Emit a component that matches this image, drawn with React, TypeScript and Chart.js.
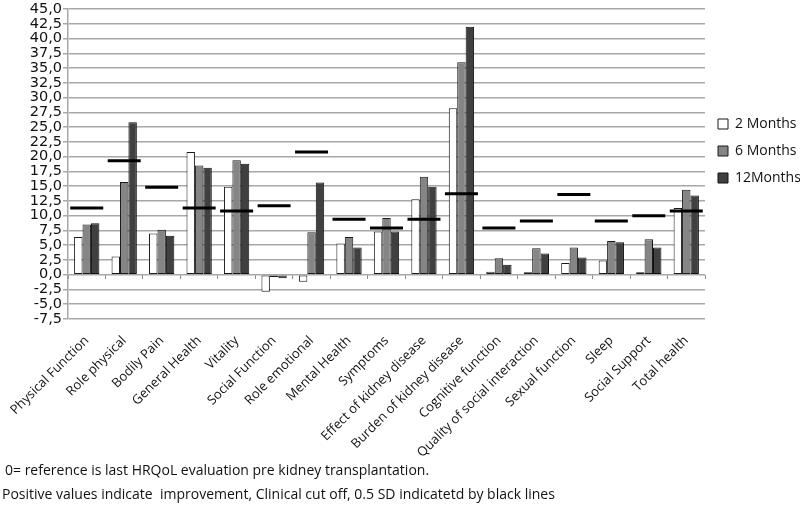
import React, { useEffect, useRef } from "react";
import { Chart, registerables } from "chart.js";

Chart.register(...registerables);

const categories = [
  "Physical Function",
  "Role physical",
  "Bodily Pain",
  "General Health",
  "Vitality",
  "Social Function",
  "Role emotional",
  "Mental Health",
  "Symptoms",
  "Effect of kidney disease",
  "Burden of kidney disease",
  "Cognitive function",
  "Quality of social interaction",
  "Sexual function",
  "Sleep",
  "Social Support",
  "Total health",
];

const seriesNames = ["2 Months", "6 Months", "12Months"];
const months2 = [6.4, 3.1, 7.0, 20.8, 14.9, -2.9, -1.2, 5.3, 7.3, 12.8, 28.2, 0.5, 0.4, 2.0, 2.4, 0.4, 11.3];
const months6 = [8.5, 15.7, 7.6, 18.5, 19.4, -0.4, 7.2, 6.4, 9.6, 16.6, 36.0, 2.8, 4.5, 4.6, 5.7, 6.0, 14.4];
const months12 = [8.7, 25.8, 6.6, 18.1, 18.8, -0.6, 15.6, 4.6, 7.3, 14.9, 42.0, 1.7, 3.6, 2.9, 5.5, 4.6, 13.4];
const cutoffs = [11.3, 19.3, 14.8, 11.3, 10.8, 11.7, 20.8, 9.4, 7.9, 9.4, 13.7, 7.9, 9.1, 13.6, 9.1, 10.0, 10.8];

const yMin = -7.5;
const yMax = 45;
const yStep = 2.5;

const footnotes = [
  "0= reference is last HRQoL evaluation pre kidney transplantation.",
  "Positive values indicate  improvement, Clinical cut off, 0.5 SD indicatetd by black lines",
];

const FONT = "'Open Sans', sans-serif";
const YFONT = "'DejaVu Sans', sans-serif";

export default function App() {
  const canvasRef = useRef<HTMLCanvasElement | null>(null);

  useEffect(() => {
    if (!canvasRef.current) return;
    const chart = new Chart(canvasRef.current, {
      type: "bar",
      data: {
        labels: categories,
        datasets: [
          {
            label: seriesNames[0],
            data: months2,
            backgroundColor: "#ffffff",
            borderColor: "#1a1a1a",
            borderWidth: 1,
            borderSkipped: false,
            order: 1,
          },
          {
            label: seriesNames[1],
            data: months6,
            backgroundColor: "#858585",
            borderColor: "#1a1a1a",
            borderWidth: 1,
            borderSkipped: false,
            order: 1,
          },
          {
            label: seriesNames[2],
            data: months12,
            backgroundColor: "#404040",
            borderColor: "#111111",
            borderWidth: 1,
            borderSkipped: false,
            order: 1,
          },
          {
            type: "line",
            label: "cutoff",
            data: cutoffs,
            showLine: false,
            pointStyle: "line",
            pointRadius: 16.5,
            pointHoverRadius: 16.5,
            pointBorderWidth: 3,
            pointBorderColor: "#000000",
            pointBackgroundColor: "#000000",
            borderColor: "#000000",
            order: -1,
          } as any,
        ],
      },
      options: {
        animation: false,
        responsive: false,
        maintainAspectRatio: false,
        layout: { autoPadding: false, padding: { top: 9, left: 0, right: 0, bottom: 0 } },
        datasets: {
          bar: { categoryPercentage: 0.675, barPercentage: 1.0 },
        },
        plugins: {
          tooltip: { enabled: false },
          title: { display: false },
          legend: {
            position: "right",
            align: "start",
            fullSize: false,
            maxWidth: 95,
            title: {
              display: true,
              text: "",
              font: { size: 10 },
              padding: { top: 0, bottom: 83 },
            },
            labels: {
              filter: (item: any) => item.datasetIndex < 3,
              boxWidth: 10,
              boxHeight: 10,
              padding: 13,
              color: "#111",
              font: { family: FONT, size: 14 },
            },
          },
        },
        scales: {
          x: {
            type: "category",
            offset: true,
            grid: { display: false, offset: true },
            border: { display: false },
            ticks: {
              minRotation: 45,
              maxRotation: 45,
              autoSkip: false,
              padding: 6,
              color: "#111",
              font: { family: FONT, size: 13 },
            },
            afterFit: (s: any) => {
              s.height = 190;
            },
          },
          x2: {
            type: "category",
            position: { y: 0 } as any,
            offset: true,
            grid: {
              offset: true,
              drawOnChartArea: false,
              drawTicks: true,
              tickLength: 4,
              color: "#8c8c8c",
              lineWidth: 1,
            },
            border: { display: false },
            ticks: { display: false },
            afterFit: (s: any) => {
              s.height = 0;
            },
          },
          y: {
            min: yMin,
            max: yMax,
            grid: {
              color: "#a8a8a8",
              lineWidth: 1.5,
              drawTicks: true,
              tickLength: 5,
            },
            border: { display: true, color: "#a8a8a8", width: 1.5 },
            ticks: {
              stepSize: yStep,
              autoSkip: false,
              padding: 1,
              color: "#111",
              font: { family: YFONT, size: 14.5 },
              callback: (v: any) => Number(v).toFixed(1).replace(".", ","),
            },
            afterFit: (s: any) => {
              s.width = 68;
              s.paddingTop = 0;
              s.paddingBottom = 0;
            },
          },
        },
      },
    });
    return () => chart.destroy();
  }, []);

  return (
    <div style={{ position: "absolute", left: 0, top: 0, width: 800, height: 509, background: "#fff" }}>
      <canvas ref={canvasRef} width={800} height={509} style={{ display: "block", width: 800, height: 509 }} />
      <div
        style={{
          position: "absolute",
          left: 5,
          top: 460,
          fontFamily: FONT,
          fontSize: 14,
          color: "#111",
          whiteSpace: "pre",
          lineHeight: "20px",
        }}
      >
        {footnotes[0]}
      </div>
      <div
        style={{
          position: "absolute",
          left: 2,
          top: 484,
          fontFamily: FONT,
          fontSize: 14,
          color: "#111",
          whiteSpace: "pre",
          lineHeight: "20px",
        }}
      >
        {footnotes[1]}
      </div>
    </div>
  );
}
